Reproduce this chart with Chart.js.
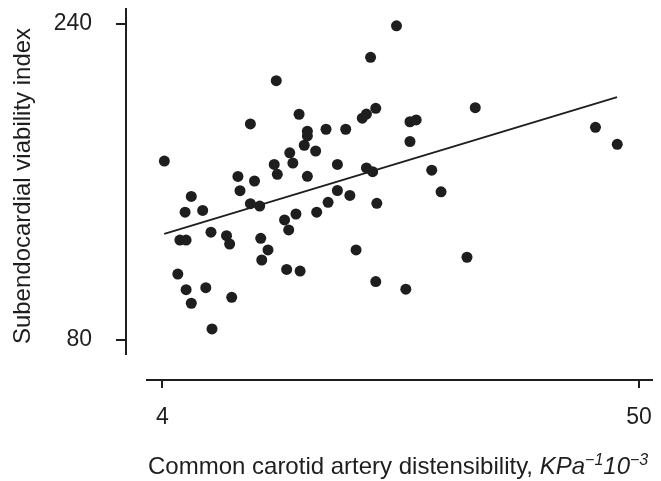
<!DOCTYPE html>
<html><head><meta charset="utf-8">
<script src="https://cdn.jsdelivr.net/npm/chart.js@4.4.1/dist/chart.umd.min.js"></script>
<style>html,body{margin:0;padding:0;background:#fff}#wrap{width:661px;height:481px}</style>
</head><body><div id="wrap"><canvas id="c" width="661" height="481"></canvas></div>
<script>
const distensibility = [26.6,24.1,15.0,24.6,34.2,23.7,23.3,17.2,27.9,28.5,12.5,45.8,18.0,18.0,19.8,21.7,27.9,47.9,17.7,18.8,16.3,4.2,16.6,14.8,20.9,23.7,24.3,30.0,11.3,15.1,18.0,12.9,6.8,11.5,20.9,22.1,30.9,6.2,7.9,12.5,13.4,20.0,24.7,5.7,6.3,8.7,10.2,10.5,13.5,15.8,16.2,16.9,18.9,14.2,13.6,22.7,5.5,16.0,17.3,6.3,8.2,6.8,10.7,8.8,24.6,33.4,27.5];
const viability = [239.1,223.1,211.3,197.3,197.6,194.4,192.3,194.3,190.5,191.4,189.4,187.7,185.7,183.3,186.7,186.7,180.5,179.1,178.6,175.7,174.8,170.6,169.6,168.9,168.9,167.1,165.2,166.0,162.8,163.9,162.9,160.5,152.7,155.6,155.7,153.2,155.0,144.7,145.6,149.0,147.8,149.7,149.2,130.6,130.6,134.6,132.8,128.6,131.5,140.8,135.7,143.8,144.7,125.6,120.5,125.6,113.4,115.7,114.9,105.5,106.5,98.6,101.6,85.6,109.6,121.9,105.7];
const fitX = [4.19, 47.88];
const fitY = [133.7, 203.0];
const xTicks = [4, 50];
const yTicks = [80, 240];
const yTitle = 'Subendocardial viability index';
const xTitleParts = [
  {t:'Common carotid artery distensibility, ', italic:false, sup:false},
  {t:'KPa', italic:true, sup:false},
  {t:'\u22121', italic:true, sup:true},
  {t:'10', italic:true, sup:false},
  {t:'\u22123', italic:true, sup:true}
];

const FONT = '"Liberation Sans", Arial, Helvetica, sans-serif';
const INK = '#1e1e1e';

const points = distensibility.map((x,i)=>({x:x, y:viability[i]}));
const fitLine = fitX.map((x,i)=>({x:x, y:fitY[i]}));

function noPad(s){ s.paddingTop = 0; s.paddingBottom = 0; s.paddingLeft = 0; s.paddingRight = 0; }

const offsetAxes = {
  id:'offsetAxes',
  afterDraw(chart){
    const ctx = chart.ctx, ca = chart.chartArea;
    const xs = chart.scales.x, ys = chart.scales.y;
    ctx.save();
    ctx.strokeStyle = INK; ctx.lineWidth = 2; ctx.lineCap = 'butt';
    const ax = ca.left - 20;
    ctx.beginPath(); ctx.moveTo(ax, ca.top); ctx.lineTo(ax, ca.bottom); ctx.stroke();
    yTicks.forEach(v=>{ const p = Math.round(ys.getPixelForValue(v)); ctx.beginPath(); ctx.moveTo(ax-10,p); ctx.lineTo(ax,p); ctx.stroke(); });
    const ay = ca.bottom + 25;
    ctx.beginPath(); ctx.moveTo(ca.left, ay); ctx.lineTo(ca.right, ay); ctx.stroke();
    xTicks.forEach(v=>{ const p = Math.round(xs.getPixelForValue(v)); ctx.beginPath(); ctx.moveTo(p,ay); ctx.lineTo(p,ay+8); ctx.stroke(); });
    ctx.fillStyle = INK;
    // y title
    ctx.save();
    ctx.translate(23, 186); ctx.rotate(-Math.PI/2);
    ctx.font = '24px ' + FONT; ctx.textAlign = 'center'; ctx.textBaseline = 'middle';
    ctx.fillText(yTitle, 0, 0);
    ctx.restore();
    // x title with italic / superscript parts
    let x = 148; const base = 474;
    ctx.textBaseline = 'alphabetic'; ctx.textAlign = 'left';
    xTitleParts.forEach(p=>{
      const size = p.sup ? 16 : 24;
      ctx.font = (p.italic?'italic ':'') + size + 'px ' + FONT;
      ctx.fillText(p.t, x, p.sup ? base - 9 : base);
      x += ctx.measureText(p.t).width;
    });
    ctx.restore();
  }
};

new Chart(document.getElementById('c'), {
  type:'scatter',
  data:{ datasets:[
    { data: points, backgroundColor: INK, borderWidth:0, pointRadius:5.5, pointHoverRadius:5.5 },
    { type:'line', data: fitLine, showLine:true, borderColor: INK, borderWidth:1.8, pointRadius:0, fill:false, tension:0 }
  ]},
  options:{
    responsive:false, animation:false, devicePixelRatio:1,
    layout:{ padding:{ top:8, right:8, bottom:0, left:0 } },
    plugins:{ legend:{display:false}, tooltip:{enabled:false} },
    scales:{
      x:{ type:'linear', min:2.43, max:51.35,
          grid:{display:false}, border:{display:false},
          afterFit(s){ s.height = 126; noPad(s); },
          afterBuildTicks(s){ s.ticks = xTicks.map(v=>({value:v})); },
          ticks:{ padding:41, color:INK, font:{family:FONT, size:23}, maxRotation:0, autoSkip:false } },
      y:{ type:'linear', min:72.4, max:248.1,
          grid:{display:false}, border:{display:false},
          afterFit(s){ s.width = 146; noPad(s); },
          afterBuildTicks(s){ s.ticks = yTicks.map(v=>({value:v})); },
          ticks:{ padding:46, color:INK, font:{family:FONT, size:23}, autoSkip:false },
          title:{ display:false } }
    }
  },
  plugins:[offsetAxes]
});
</script></body></html>
